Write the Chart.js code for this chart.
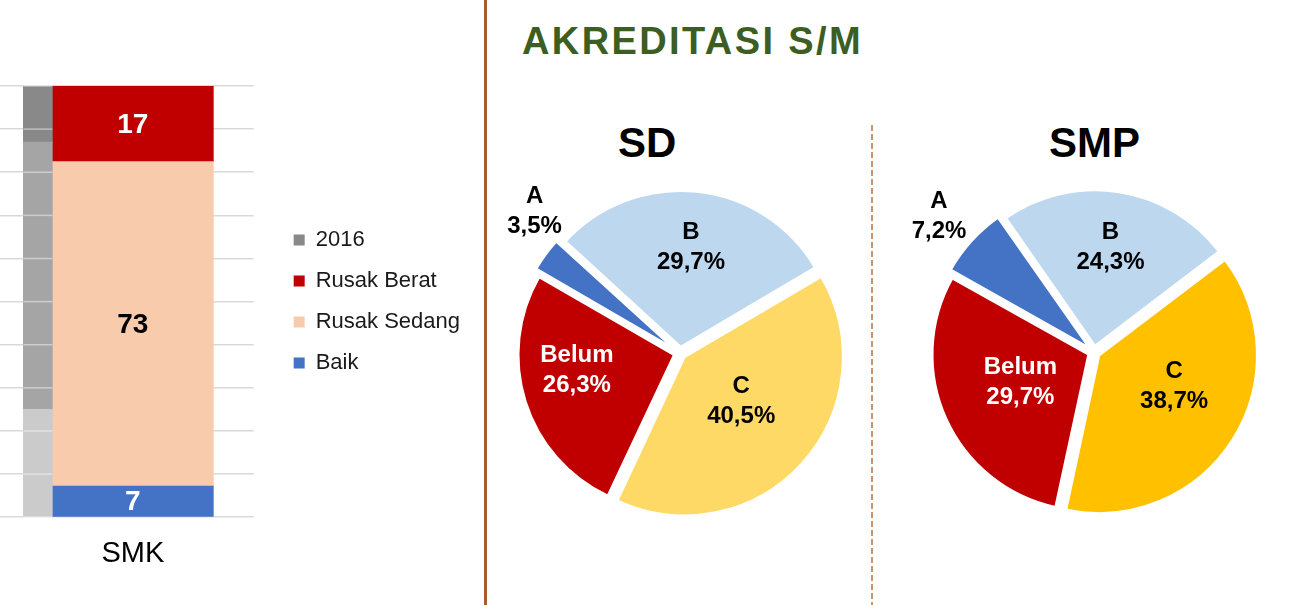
<!DOCTYPE html>
<html>
<head>
<meta charset="utf-8">
<script src="https://cdn.jsdelivr.net/npm/chart.js@4.4.0/dist/chart.umd.min.js"></script>
<style>
  body { margin: 0; width: 1304px; height: 605px; overflow: hidden; background: #fff; position: relative;
         font-family: "Liberation Sans", Arial, sans-serif; }
  .box { position: absolute; }
  #barWrap { left: -149px; top: 0; width: 619px; height: 605px; }
  #sdWrap { left: 480px; top: 153px; width: 400px; height: 400px; }
  #smpWrap { left: 894px; top: 152px; width: 400px; height: 400px; }
  .vline { left: 484px; top: 0; width: 2.5px; height: 605px; background: #a95b2b; }
  .dash { left: 871px; top: 125px; width: 1.5px; height: 480px;
          background: repeating-linear-gradient(to bottom, #c8956c 0 6px, transparent 6px 9px); }
  .title { left: 522px; top: 22px; font-size: 38px; line-height: 1; font-weight: bold; color: #3c5e22; letter-spacing: 2.4px; white-space: nowrap; }
  .pieTitle { top: 122px; font-size: 42px; line-height: 1; font-weight: bold; color: #000; }
</style>
</head>
<body>
<div class="box vline"></div>
<div class="box dash"></div>
<div class="box" id="barWrap"><canvas id="barChart"></canvas></div>
<div class="box title">AKREDITASI S/M</div>
<div class="box pieTitle" style="left:618px">SD</div>
<div class="box pieTitle" style="left:1049px">SMP</div>
<div class="box" id="sdWrap"><canvas id="sdChart"></canvas></div>
<div class="box" id="smpWrap"><canvas id="smpChart"></canvas></div>

<script>
Chart.defaults.font.family = '"Liberation Sans", Arial, sans-serif';
Chart.defaults.color = '#1a1a1a';

// bar chart data
var barCategories = ['SMK'];
var statusLabels = ['Baik', 'Rusak Sedang', 'Rusak Berat'];
var smkCounts = [7, 73, 17];
// grey 2016 bar, % of the stack (bottom, middle, top)
var grey2016Pct = [25, 62, 13];

// pie data
var grades = ['A', 'B', 'C', 'Belum'];
var sdPct = [3.5, 29.7, 40.5, 26.3];
var smpPct = [7.2, 24.3, 38.7, 29.7];

var smkTotal = smkCounts.reduce(function (a, b) { return a + b; }, 0);
var smkPct = smkCounts.map(function (v) { return v / smkTotal * 100; });

var statusColors = ['#4472c4', '#f8cbad', '#c00000'];
var statusTextColors = ['#fff', '#000', '#fff'];
var greyColors = ['#cbcbcb', '#a5a5a5', '#898989'];

// gridlines show over the grey bar
var greyGrid = {
  id: 'greyGrid',
  afterDatasetsDraw: function (chart) {
    var ctx = chart.ctx, y = chart.scales.y;
    var bar = chart.getDatasetMeta(0).data[0];
    var left = bar.x - bar.width / 2, right = bar.x + bar.width / 2;
    ctx.save();
    ctx.strokeStyle = 'rgba(255,255,255,0.45)';
    ctx.lineWidth = 1.5;
    y.ticks.forEach(function (t) {
      var py = y.getPixelForValue(t.value);
      ctx.beginPath();
      ctx.moveTo(left, py);
      ctx.lineTo(right, py);
      ctx.stroke();
    });
    ctx.restore();
  }
};

var barValues = {
  id: 'barValues',
  afterDatasetsDraw: function (chart) {
    var ctx = chart.ctx;
    ctx.save();
    ctx.font = 'bold 28px "Liberation Sans", Arial, sans-serif';
    ctx.textAlign = 'center';
    ctx.textBaseline = 'middle';
    for (var i = 0; i < statusLabels.length; i++) {
      var el = chart.getDatasetMeta(3 + i).data[0];
      var p = el.getCenterPoint();
      ctx.fillStyle = statusTextColors[i];
      ctx.fillText(String(smkCounts[i]), p.x, p.y + 1);
    }
    ctx.restore();
  }
};

var barDatasets = [];
grey2016Pct.forEach(function (v, i) {
  barDatasets.push({
    label: i === 2 ? '2016' : '2016-' + i,
    data: [v],
    backgroundColor: greyColors[i],
    stack: 'g',
    barThickness: 29
  });
});
statusLabels.forEach(function (name, i) {
  barDatasets.push({
    label: name,
    data: [smkPct[i]],
    backgroundColor: statusColors[i],
    stack: 's',
    barThickness: 161
  });
});

new Chart(document.getElementById('barChart'), {
  type: 'bar',
  data: { labels: barCategories, datasets: barDatasets },
  options: {
    responsive: true,
    maintainAspectRatio: false,
    animation: false,
    layout: { padding: { top: 86, bottom: 15, left: 0, right: 0 } },
    scales: {
      x: {
        stacked: true,
        grid: { display: false, drawTicks: false },
        border: { display: false },
        ticks: { font: { size: 29 }, color: '#000', padding: 19, labelOffset: 80.5 }
      },
      y: {
        stacked: true,
        min: 0,
        max: 100,
        ticks: { display: false, stepSize: 10 },
        grid: { color: '#d9d9d9', lineWidth: 1.5, drawTicks: false },
        border: { display: false }
      },
      yR: {
        type: 'linear',
        position: 'right',
        ticks: { display: false },
        grid: { display: false },
        border: { display: false },
        afterFit: function (s) { s.width = 21; }
      }
    },
    plugins: {
      tooltip: { enabled: false },
      legend: {
        position: 'right',
        align: 'center',
        fullSize: false,
        maxWidth: 300,
        labels: {
          boxWidth: 11,
          boxHeight: 11,
          padding: 19,
          color: '#1a1a1a',
          font: { size: 22 },
          filter: function (item) { return item.datasetIndex >= 2; },
          sort: function (a, b) {
            var ka = a.datasetIndex === 2 ? -100 : -a.datasetIndex;
            var kb = b.datasetIndex === 2 ? -100 : -b.datasetIndex;
            return ka - kb;
          }
        }
      }
    }
  },
  plugins: [greyGrid, barValues]
});

function fmtPct(v) { return v.toFixed(1).replace('.', ',') + '%'; }

var sliceLabels = {
  id: 'sliceLabels',
  afterDatasetsDraw: function (chart, args, opts) {
    var ctx = chart.ctx;
    var meta = chart.getDatasetMeta(0);
    var values = chart.data.datasets[0].data;
    ctx.save();
    ctx.font = 'bold 24px "Liberation Sans", Arial, sans-serif';
    ctx.textAlign = 'center';
    ctx.textBaseline = 'middle';
    meta.data.forEach(function (arc, i) {
      var mid = (arc.startAngle + arc.endAngle) / 2 + opts.shift[i] * Math.PI / 180;
      var r = arc.outerRadius * opts.radial[i];
      var x = arc.x + Math.cos(mid) * r;
      var y = arc.y + Math.sin(mid) * r;
      ctx.fillStyle = opts.colors[i];
      ctx.fillText(chart.data.labels[i], x, y - 15);
      ctx.fillText(fmtPct(values[i]), x, y + 15);
    });
    ctx.restore();
  }
};

function makePie(id, values, rotation, cColor, radial, shift) {
  new Chart(document.getElementById(id), {
    type: 'pie',
    data: {
      labels: grades,
      datasets: [{
        data: values,
        backgroundColor: ['#4472c4', '#bdd7ee', cColor, '#c00000'],
        borderColor: '#fff',
        borderWidth: 2.5,
        offset: 24,
        radius: 156
      }]
    },
    options: {
      responsive: true,
      maintainAspectRatio: false,
      animation: false,
      rotation: rotation,
      plugins: {
        legend: { display: false },
        tooltip: { enabled: false },
        sliceLabels: { radial: radial, shift: shift, colors: ['#000', '#000', '#000', '#fff'] }
      }
    },
    plugins: [sliceLabels]
  });
}

makePie('sdChart', sdPct, -60.1, '#ffd966', [1.3, 0.68, 0.5, 0.67], [8, 0, -4, 8]);
makePie('smpChart', smpPct, -60.8, '#ffc000', [1.32, 0.68, 0.56, 0.51], [-1, 0, -9, 2]);
</script>
</body>
</html>
